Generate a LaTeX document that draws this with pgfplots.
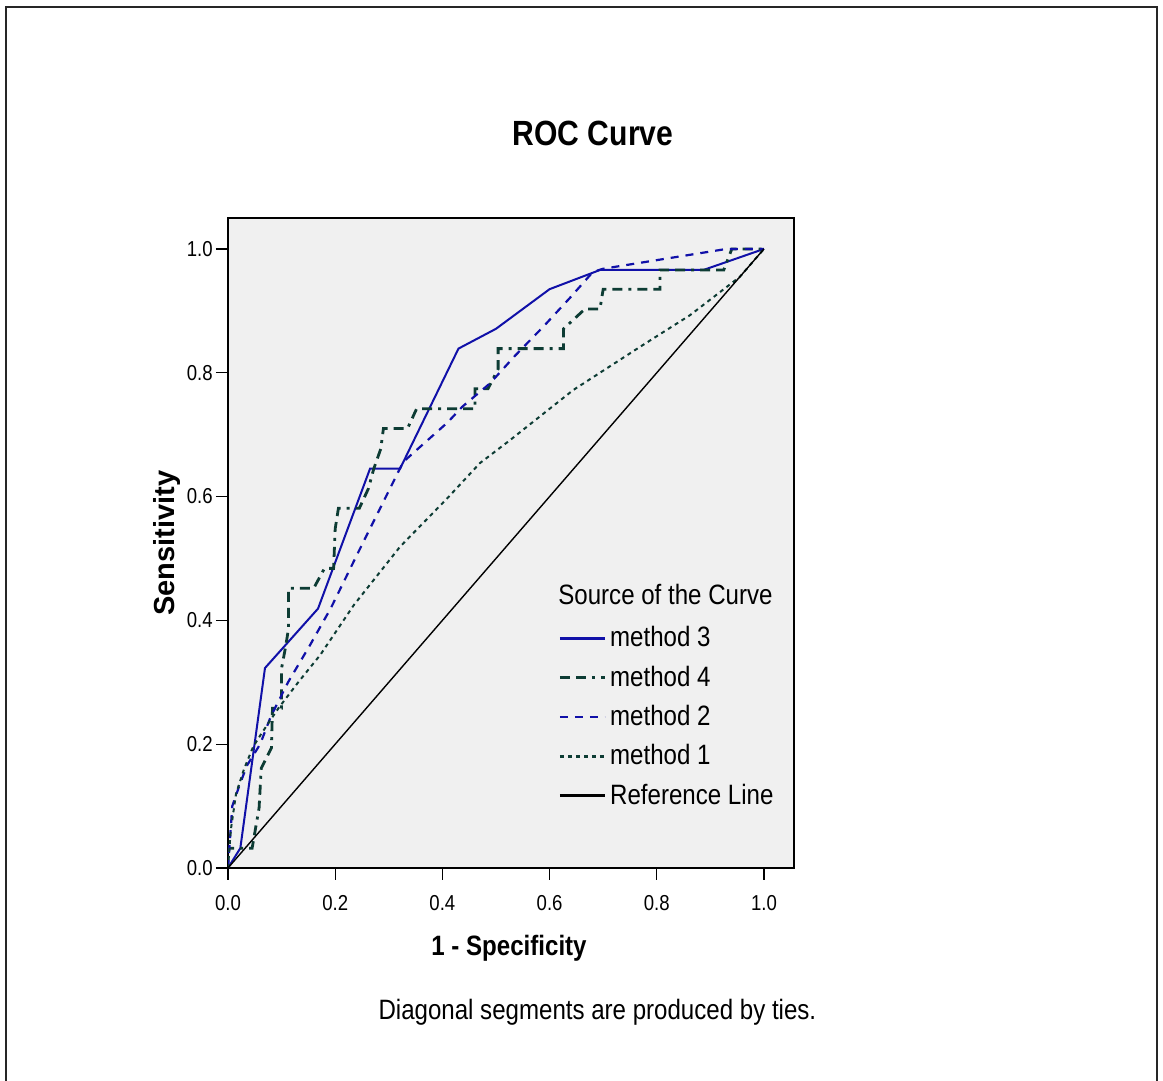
\documentclass[border=0pt]{standalone}
\usepackage{fontspec}
\setmainfont{Liberation Sans}
\newfontfamily\nf{Liberation Sans}[FakeStretch=0.86]
\usepackage{pgfplots}
\pgfplotsset{compat=1.18}
\definecolor{mblue}{RGB}{16,16,168}
\definecolor{mgreen}{RGB}{13,60,52}
\definecolor{plotbg}{RGB}{240,240,240}
\begin{document}
\begin{tikzpicture}
\useasboundingbox (0,0) rectangle (581.5pt,540.5pt);
\fill[white] (0,0) rectangle (581.5pt,540.5pt);
\draw[line width=1pt, black!85] (3pt,-1pt) -- (3pt,537pt) -- (578.5pt,537pt) -- (578.5pt,-1pt);
\node[font=\nf\bfseries\fontsize{17.5}{20}\selectfont] at (296.5pt,474pt) {ROC Curve};
\node[font=\nf\fontsize{14}{16}\selectfont] at (298.7pt,34.5pt) {Diagonal segments are produced by ties.};
\begin{axis}[
  at={(114pt,106.5pt)}, anchor=south west,
  scale only axis, width=283pt, height=325pt,
  xmin=0, xmax=1.056, ymin=0, ymax=1.050,
  axis background/.style={fill=plotbg},
  axis line style={line width=0.6pt, black},
  xtick={0,0.2,0.4,0.6,0.8,1.0}, ytick={0,0.2,0.4,0.6,0.8,1.0},
  xtick pos=bottom, ytick pos=left,
  tick align=outside, major tick length=6pt,
  tick style={black, line width=0.6pt},
  /pgf/number format/assume math mode=true,
  /pgf/number format/.cd, fixed, fixed zerofill, precision=1, /pgfplots/.cd,
  ticklabel style={font=\nf\fontsize{10.8}{12}\selectfont},
  xticklabel style={anchor=north, inner sep=0pt, yshift=-7.5pt},
  yticklabel style={anchor=east, inner sep=0pt, xshift=-1.5pt},
  xlabel={1 - Specificity},
  xlabel style={font=\nf\bfseries\fontsize{14}{16}\selectfont, at={(axis description cs:0.4965,-0.124)}, anchor=center},
  ylabel={Sensitivity},
  ylabel style={font=\bfseries\fontsize{14.5}{16}\selectfont, at={(axis description cs:-0.108,0.5)}, anchor=center},
  legend style={at={(axis description cs:0.583,0.378)}, anchor=north west, draw=none, fill=none, inner sep=0pt, row sep=4pt, font=\nf\fontsize{14}{16}\selectfont},
  legend cell align=left,
  legend image code/.code={\draw[#1, line width=1.4pt] (0pt,0pt) -- (22.5pt,0pt);},
]
\addplot[mblue, line width=1pt] coordinates {
(0,0)(0.023,0.032)(0.069,0.323)(0.168,0.419)(0.265,0.645)(0.321,0.645)(0.43,0.839)(0.5,0.871)(0.6,0.935)(0.694,0.966)(0.887,0.966)(1,1)};
\addlegendentry{method 3}
\addplot[mgreen, line width=1.4pt, dash pattern=on 5pt off 3pt on 5pt off 3pt on 1.5pt off 3pt] coordinates {
(0,0)(0,0.032)(0.045,0.032)(0.058,0.097)(0.062,0.161)(0.081,0.194)(0.083,0.258)(0.1,0.258)(0.1,0.323)(0.107,0.355)(0.113,0.387)(0.113,0.452)(0.16,0.452)(0.18,0.484)(0.197,0.484)(0.2,0.548)(0.206,0.581)(0.245,0.581)(0.262,0.613)(0.272,0.645)(0.285,0.677)(0.29,0.71)(0.335,0.71)(0.352,0.742)(0.461,0.742)(0.461,0.774)(0.485,0.774)(0.504,0.806)(0.504,0.839)(0.626,0.839)(0.626,0.871)(0.666,0.903)(0.694,0.903)(0.70,0.935)(0.806,0.935)(0.806,0.966)(0.925,0.966)(0.94,1)(1,1)};
\addlegendentry{method 4}
\addplot[mblue, line width=1.1pt, dash pattern=on 4pt off 3.5pt] coordinates {
(0,0)(0.008,0.1)(0.02,0.13)(0.035,0.165)(0.06,0.2)(0.08,0.245)(0.112,0.3)(0.153,0.36)(0.192,0.42)(0.243,0.51)(0.293,0.597)(0.327,0.656)(0.41,0.72)(0.437,0.745)(0.489,0.783)(0.535,0.827)(0.59,0.876)(0.638,0.921)(0.681,0.963)(0.70,0.968)(0.93,1.0)(1,1)};
\addlegendentry{method 2}
\addplot[mgreen, line width=1pt, dash pattern=on 2pt off 2pt] coordinates {
(0,0)(0.005,0.06)(0.015,0.12)(0.03,0.16)(0.047,0.196)(0.063,0.218)(0.094,0.258)(0.131,0.3)(0.172,0.344)(0.235,0.425)(0.321,0.519)(0.41,0.598)(0.47,0.654)(0.526,0.691)(0.644,0.772)(0.769,0.842)(0.862,0.893)(0.955,0.955)(1,1)};
\addlegendentry{method 1}
\addplot[black, line width=0.7pt] coordinates {(0,0)(1,1)};
\addlegendentry{Reference Line}
\node[anchor=west, inner sep=0pt, font=\nf\fontsize{14}{16}\selectfont] at (axis description cs:0.583,0.4215) {Source of the Curve};
\end{axis}
\end{tikzpicture}
\end{document}
